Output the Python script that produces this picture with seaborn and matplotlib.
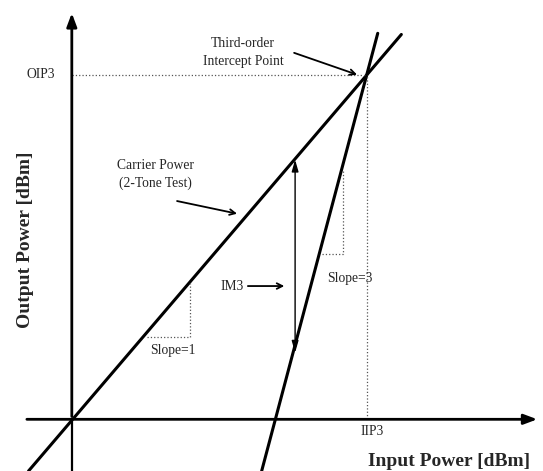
import pandas as pd
import matplotlib.pyplot as plt
import seaborn as sns

# line end points (input power, output power)
carrier_x = [-4.4, 33.5]
carrier_y = [-4.5, 33.5]
im3_x = [19.3, 31.1]
im3_y = [-4.5, 33.6]

iip3 = 30
oip3 = 30

# slope helper triangles
slope1_x = [7.6, 12.0, 12.0]
slope1_y = [7.2, 7.2, 11.9]
slope3_x = [25.4, 27.6, 27.6]
slope3_y = [14.4, 14.4, 21.6]

# IM3 distance arrow
im3_arrow_x = 22.7
im3_arrow_y = [5.8, 22.6]

sns.set_style("white")
plt.rcParams['font.family'] = ['Liberation Serif', 'DejaVu Serif']

fig = plt.figure(figsize=(5.43, 4.71), dpi=100)
ax = fig.add_axes([0, 0, 1, 1])
ax.set_xlim(-7.3, 47.9)
ax.set_ylim(-4.5, 36.5)
ax.axis('off')

df_c = pd.DataFrame({'x': carrier_x, 'y': carrier_y})
df_i = pd.DataFrame({'x': im3_x, 'y': im3_y})
sns.lineplot(x='x', y='y', data=df_c, color='black', lw=2.2, ax=ax)
sns.lineplot(x='x', y='y', data=df_i, color='black', lw=2.2, ax=ax)

# axes with arrow heads
ax.annotate('', xy=(47.6, 0), xytext=(-4.85, 0),
            arrowprops=dict(arrowstyle='-|>,head_length=0.8,head_width=0.3', color='black', lw=2))
ax.annotate('', xy=(0, 35.6), xytext=(0, 0),
            arrowprops=dict(arrowstyle='-|>,head_length=0.8,head_width=0.3', color='black', lw=2))
ax.plot([0, 0], [-4.5, 0], color='black', lw=1.6)

# dotted guides
dot = dict(color='#555555', lw=0.9, ls=':')
ax.plot([0, iip3], [oip3, oip3], **dot)
ax.plot([iip3, iip3], [0, oip3], **dot)
ax.plot(slope1_x, slope1_y, **dot)
ax.plot(slope3_x, slope3_y, **dot)

# IM3 double arrow
ax.annotate('', xy=(im3_arrow_x, im3_arrow_y[1]), xytext=(im3_arrow_x, im3_arrow_y[0]),
            arrowprops=dict(arrowstyle='<|-|>,head_length=0.7,head_width=0.2', color='black', lw=1.0,
                            shrinkA=0, shrinkB=0))

fs = 9.8
ax.text(-3.2, oip3, 'OIP3', fontsize=fs, ha='center', va='center')
ax.text(30.5, -1.1, 'IIP3', fontsize=fs, ha='center', va='center')
ax.text(10.3, 6.0, 'Slope=1', fontsize=fs, ha='center', va='center')
ax.text(28.3, 12.3, 'Slope=3', fontsize=fs, ha='center', va='center')

ax.text(17.4, 31.9, 'Third-order\nIntercept Point', fontsize=fs, ha='center', va='center', linespacing=1.5)
ax.annotate('', xy=(29.0, 30.0), xytext=(22.6, 31.9),
            arrowprops=dict(arrowstyle='->', color='black', lw=1.3, shrinkA=0, shrinkB=0))
ax.text(8.5, 21.3, 'Carrier Power\n(2-Tone Test)', fontsize=fs, ha='center', va='center', linespacing=1.5)
ax.annotate('', xy=(16.8, 17.9), xytext=(10.7, 19.0),
            arrowprops=dict(arrowstyle='->', color='black', lw=1.3, shrinkA=0, shrinkB=0))
ax.text(16.3, 11.6, 'IM3', fontsize=fs, ha='center', va='center')
ax.annotate('', xy=(21.6, 11.6), xytext=(17.9, 11.6),
            arrowprops=dict(arrowstyle='->', color='black', lw=1.3, shrinkA=0, shrinkB=0))

ax.text(38.3, -3.7, 'Input Power [dBm]', fontsize=14, fontweight='bold', ha='center', va='center')
ax.text(-4.75, 15.6, 'Output Power [dBm]', fontsize=14, fontweight='bold', ha='center', va='center',
        rotation=90)

fig.savefig('out.png', dpi=100)
